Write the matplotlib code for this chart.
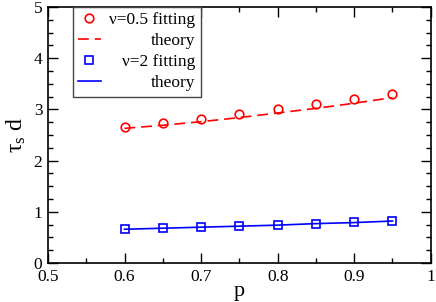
import numpy as np
import matplotlib
matplotlib.use('Agg')
import matplotlib.pyplot as plt
from matplotlib.ticker import MultipleLocator

plt.rcParams['font.family'] = ['Liberation Serif', 'DejaVu Serif']
plt.rcParams['mathtext.fontset'] = 'custom'
plt.rcParams['mathtext.rm'] = 'Liberation Serif'
plt.rcParams['mathtext.it'] = 'Liberation Serif'

p = [0.6, 0.65, 0.7, 0.75, 0.8, 0.85, 0.9, 0.95]
fit_05 = [2.66, 2.74, 2.82, 2.91, 3.00, 3.10, 3.20, 3.31]
theory_05 = [2.63, 2.69, 2.76, 2.84, 2.93, 3.02, 3.12, 3.23]
fit_2 = [0.67, 0.68, 0.71, 0.73, 0.75, 0.77, 0.80, 0.82]
theory_2 = [0.66, 0.68, 0.70, 0.72, 0.74, 0.77, 0.79, 0.82]
labels = ['\u03bd=0.5 fitting', 'theory', '\u03bd=2 fitting', 'theory']

FS = 12.5

fig = plt.figure(figsize=(4.36, 3.02), dpi=100)
ax = fig.add_axes([0.110, 0.129, 0.878, 0.848])

ax.plot(p, fit_05, 'o', ms=6.2, mfc='none', mec='red', mew=1.2, label=labels[0])
ax.plot(p, theory_05, color='red', lw=1.2, dashes=(6.5, 3.5), label=labels[1])
ax.plot(p, fit_2, 's', ms=5.6, mfc='none', mec='blue', mew=1.2, label=labels[2])
ax.plot(p, theory_2, color='blue', lw=1.2, label=labels[3])

ax.set_xlim(0.5, 1.0)
ax.set_ylim(0, 5)
ax.xaxis.set_major_locator(MultipleLocator(0.1))
ax.xaxis.set_minor_locator(MultipleLocator(0.05))
ax.yaxis.set_major_locator(MultipleLocator(1))
ax.yaxis.set_minor_locator(MultipleLocator(0.25))
ax.set_xticks([0.5, 0.6, 0.7, 0.8, 0.9, 1.0])
ax.set_xticklabels(['0.5', '0.6', '0.7', '0.8', '0.9', '1'])
ax.tick_params(which='both', direction='in', top=True, right=True, labelsize=FS, width=1)
ax.tick_params(which='major', length=7, pad=4)
ax.tick_params(which='minor', length=3.5)
for s in ax.spines.values():
    s.set_linewidth(1.2)

ax.set_xlabel('p', fontsize=16, labelpad=-2)
ax.set_ylabel(r'$\tau_s$ d', fontsize=17, labelpad=4)

leg = ax.legend(loc='upper left', bbox_to_anchor=(0.065, 1.0), borderaxespad=0,
                fontsize=FS, fancybox=False, edgecolor='#444444', framealpha=1,
                handlelength=1.3, handletextpad=0.5, labelspacing=0.28,
                borderpad=0.3)
leg.get_frame().set_linewidth(1)

# right-align the legend labels: hide originals, redraw them flush right
fig.canvas.draw()
renderer = fig.canvas.get_renderer()
exts = [t.get_window_extent(renderer) for t in leg.get_texts()]
xright = max(e.x1 for e in exts)
for t, e in zip(leg.get_texts(), exts):
    t.set_alpha(0)
    fig.text(xright, (e.y0 + e.y1) / 2, t.get_text(), fontsize=FS,
             ha='right', va='center', transform=None)

fig.savefig('out.png', dpi=100)
